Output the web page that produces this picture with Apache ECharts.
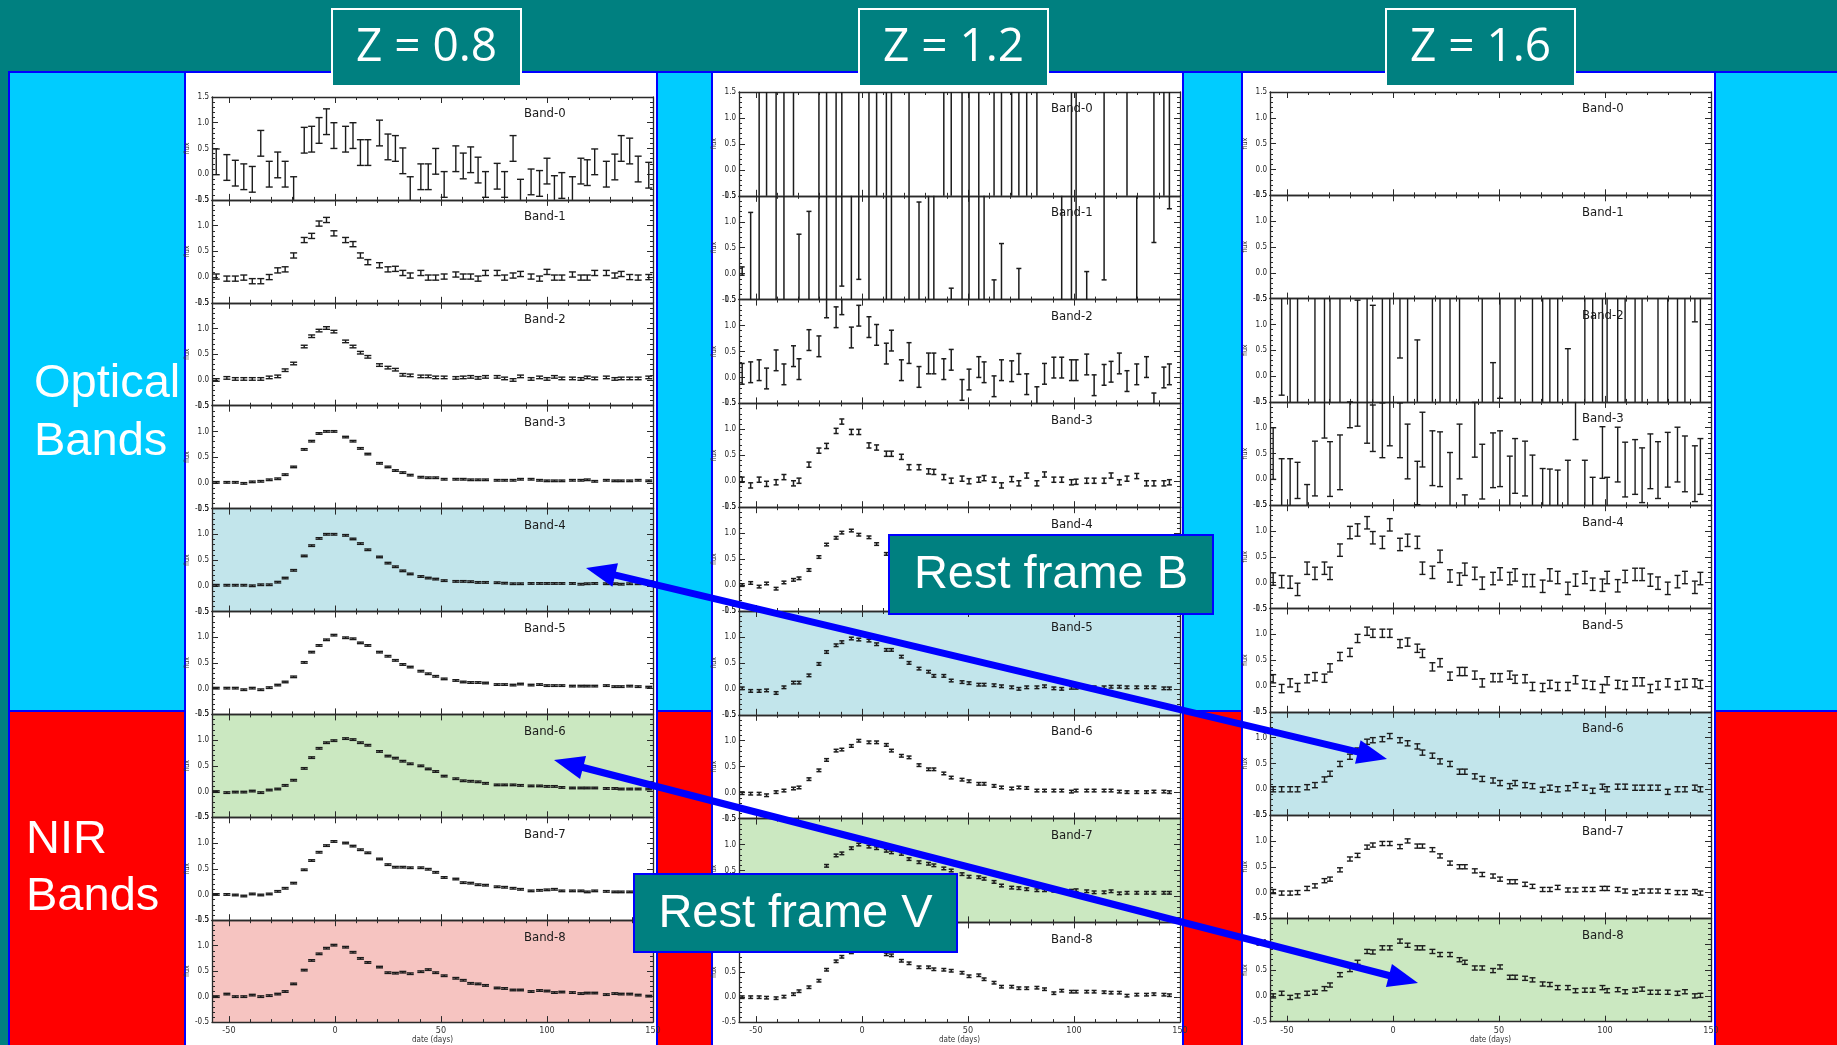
<!DOCTYPE html>
<html>
<head>
<meta charset="utf-8">
<script src="https://cdn.jsdelivr.net/npm/echarts@6/dist/echarts.min.js"></script>
<style>
html, body { margin: 0; padding: 0; background: #008080; }
#chart { width: 1837px; height: 1045px; }
</style>
</head>
<body>
<div id="chart"></div>
<script>
// observation epochs (days from peak)
var daysA = [-56,-51,-47,-43,-39,-35,-31,-27,-23.5,-19.5,-14.5,-11,-7.5,-4,-0.5,5,8.5,12,15.5,21,25,28.5,32,35.5,40.5,44,47.5,51.5,57,60.5,64,67.5,71,76.5,80,84,87.5,92.5,96.5,100,103.5,107,112,116,119,122.5,128,132,135,139,143,148];
var daysB = [-56.5,-52.5,-48.5,-45,-40.5,-36.8,-32.3,-29.7,-25,-20.3,-16.7,-12.2,-9.5,-5,-1.5,3.3,6.9,11.5,13.9,18.6,22.2,26.9,31.4,33.9,38.6,42.1,47.2,50.5,55.1,57.6,62.3,65.8,70.6,74,77.7,82.5,86.1,90.5,94.2,98.8,101,106,109.5,114.2,117.5,121.4,125,129.6,134.2,137.7,142.4,145];

var dayTicks = [-50, 0, 50, 100, 150];
var dayMinorTicks = [-50,-40,-30,-20,-10,0,10,20,30,40,50,60,70,80,90,100,110,120,130,140,150];

// Z = 0.8
var z08b0 = [0.24,0.13,0.02,-0.05,-0.1,0.6,0.0,0.18,0.0,-0.3,0.66,0.68,0.85,1.02,0.75,0.68,0.75,0.42,0.42,0.8,0.53,0.5,0.26,-0.3,-0.05,-0.05,0.25,-0.2,0.3,0.16,0.28,0.08,-0.2,-0.04,-0.2,0.5,-0.35,-0.15,-0.18,0.06,-0.28,-0.22,-0.3,0.06,0.03,0.24,0.0,0.14,0.5,0.45,0.1,-0.02];
var z08b1 = [0.01,-0.03,-0.03,-0.01,-0.08,-0.08,0,0.13,0.15,0.42,0.72,0.8,1.04,1.11,0.85,0.72,0.64,0.42,0.29,0.23,0.15,0.16,0.08,0.03,0.08,-0.01,-0.01,0.01,0.05,0.01,0.01,-0.03,0.08,0.08,-0.01,0.03,0.06,0.01,-0.03,0.1,-0.01,-0.01,0.05,-0.01,-0.01,0.08,0.08,0.03,0.06,0.0,-0.01,0.0];
var z08b2 = [0,0.04,0.02,0.02,0.02,0.02,0.05,0.07,0.19,0.32,0.65,0.85,0.96,1.01,0.94,0.75,0.65,0.53,0.45,0.29,0.24,0.2,0.1,0.09,0.07,0.07,0.05,0.05,0.04,0.05,0.06,0.04,0.06,0.06,0.03,0.0,0.07,0.02,0.05,0.02,0.06,0.03,0.03,0.02,0.05,0.03,0.05,0.02,0.03,0.03,0.03,0.05];
var z08b3 = [0.01,0.01,0.01,-0.01,0.02,0.03,0.06,0.08,0.16,0.31,0.65,0.81,0.96,1.0,1.0,0.89,0.81,0.67,0.56,0.38,0.31,0.24,0.2,0.15,0.11,0.1,0.1,0.07,0.07,0.07,0.06,0.06,0.06,0.05,0.05,0.05,0.07,0.07,0.05,0.04,0.04,0.04,0.05,0.05,0.06,0.03,0.05,0.04,0.04,0.04,0.05,0.04];
var z08b4 = [0.01,0.01,0.01,0.01,0,0.02,0.02,0.07,0.15,0.3,0.58,0.78,0.92,1.0,1.0,0.98,0.91,0.82,0.7,0.56,0.44,0.37,0.29,0.23,0.18,0.15,0.13,0.1,0.085,0.085,0.08,0.065,0.065,0.06,0.05,0.04,0.04,0.045,0.045,0.045,0.045,0.045,0.045,0.03,0.04,0.045,0.04,0.04,0.03,0.04,0.04,0.04];
var z08b5 = [0.01,0.01,0.01,-0.02,0.01,-0.02,0.02,0.07,0.13,0.23,0.51,0.71,0.84,0.95,1.04,0.99,0.97,0.89,0.84,0.71,0.63,0.55,0.47,0.42,0.34,0.29,0.24,0.19,0.16,0.13,0.12,0.12,0.11,0.08,0.08,0.07,0.09,0.07,0.08,0.06,0.06,0.06,0.05,0.05,0.05,0.05,0.06,0.04,0.04,0.05,0.04,0.03];
var z08b6 = [0,-0.02,-0.01,-0.01,0.01,-0.02,0.03,0.05,0.12,0.22,0.45,0.66,0.84,0.95,0.99,1.03,1.01,0.95,0.9,0.78,0.69,0.65,0.59,0.54,0.5,0.44,0.39,0.3,0.25,0.21,0.2,0.19,0.16,0.13,0.13,0.13,0.12,0.11,0.11,0.1,0.1,0.08,0.07,0.07,0.07,0.07,0.06,0.06,0.05,0.05,0.05,0.05];
var z08b7 = [0,0,-0.01,-0.03,0.01,-0.01,0.01,0.06,0.12,0.22,0.48,0.66,0.82,0.95,1.03,1.0,0.94,0.87,0.81,0.69,0.58,0.53,0.53,0.52,0.52,0.49,0.43,0.33,0.3,0.23,0.22,0.19,0.18,0.15,0.14,0.12,0.1,0.07,0.08,0.09,0.1,0.07,0.07,0.07,0.05,0.07,0.06,0.05,0.05,0.05,0.05,0.04];
var z08b8 = [0,0.05,0,0,0.03,0,0.02,0.05,0.1,0.25,0.52,0.71,0.84,0.95,1.01,0.97,0.87,0.75,0.67,0.58,0.47,0.46,0.48,0.45,0.49,0.53,0.47,0.41,0.36,0.32,0.26,0.25,0.22,0.17,0.16,0.13,0.13,0.1,0.12,0.11,0.08,0.09,0.08,0.06,0.07,0.07,0.04,0.06,0.05,0.05,0.03,0.01];

// Z = 1.2
var z12b0 = [null,null,0.4,0.6,0.5,0.3,0.7,null,null,0.5,0.6,0.4,0.5,null,0.6,0.5,0.4,0.5,0.7,null,0.5,null,null,null,0.6,0.5,0.4,0.6,0.5,null,0.3,0.6,0.5,0.4,0.6,0.5,null,null,null,0.5,0.6,null,null,0.4,null,null,0.5,null,null,0.6,0.4,0.5];
var z12b1 = [0.05,-0.32,0.5,null,0.5,0.5,null,-0.74,-0.3,0.5,0.5,0.5,1.26,0.5,1.39,0.5,null,0.5,0.5,null,0.5,-0.12,0.5,0.5,null,-1.78,0.5,0.5,0.5,0.5,-1.62,-0.92,null,-1.4,null,null,null,null,0.5,0.5,0.5,-1.46,null,1.38,null,null,null,0.5,null,2.1,null,2.75];
var z12b1Err = [0.08,1.5,2.5,0,2.5,2.5,0,1.5,1.5,2.5,2.5,2.5,1.5,2.5,1.5,2.5,0,2.5,2.5,0,2.5,1.5,2.5,2.5,0,1.5,2.5,2.5,2.5,2.5,1.5,1.5,0,1.5,0,0,0,0,2.5,2.5,2.5,1.5,0,1.5,0,0,0,2.5,0,1.5,0,1.5];
var z12b2 = [0.07,0.1,0.14,-0.02,0.33,0.06,0.41,0.16,0.72,0.6,1.35,1.16,1.41,0.77,1.19,0.97,0.82,0.46,0.71,0.14,0.47,0.01,0.27,0.27,0.16,0.34,-0.24,-0.04,0.2,0.1,-0.17,0.14,0.12,0.26,-0.13,-0.38,0.07,0.19,0.19,0.14,0.14,0.25,-0.15,0.05,0.11,0.27,-0.07,0.06,0.2,-0.5,0.0,0.06];
var z12b3 = [0.03,-0.08,0.03,-0.05,-0.02,0.08,-0.04,0.01,0.32,0.59,0.68,0.97,1.15,0.95,0.95,0.69,0.65,0.53,0.53,0.47,0.27,0.27,0.19,0.18,0.08,0.01,0.05,0,0.03,0.06,0.03,-0.08,0.04,-0.04,0.11,-0.04,0.13,0.03,0.03,-0.02,-0.01,0.01,0.01,0.01,0.11,-0.02,0.05,0.1,-0.04,-0.04,-0.04,-0.02];
var z12b4 = [0,0.04,-0.03,0.03,-0.07,0.05,0.1,0.13,0.29,0.54,0.78,0.91,1.01,1.05,0.97,0.92,0.79,0.6,0.5,0.4,0.33,0.26,0.2,0.17,0.13,0.11,0.09,0.08,0.07,0.06,0.06,0.05,0.05,0.05,0.04,0.04,0.05,0.04,0.04,0.04,0.03,0.04,0.04,0.03,0.04,0.03,0.03,0.04,0.03,0.03,0.03,0.03];
var z12b5 = [0.01,-0.04,-0.04,-0.03,-0.08,0.03,0.12,0.12,0.26,0.48,0.71,0.84,0.9,0.97,0.95,0.93,0.86,0.75,0.75,0.62,0.5,0.39,0.33,0.25,0.25,0.16,0.13,0.11,0.08,0.08,0.07,0.05,0.03,0,0.03,0.03,0.05,0.01,0,0.02,0.02,0.03,0.03,0.03,0.04,0.04,0.03,0.03,0.03,0.03,0.01,0.01];
var z12b6 = [-0.01,-0.02,-0.02,-0.05,0.01,0.04,0.08,0.1,0.26,0.43,0.63,0.81,0.83,0.9,1.0,0.97,0.97,0.92,0.81,0.71,0.68,0.53,0.45,0.45,0.37,0.29,0.25,0.22,0.17,0.17,0.13,0.1,0.08,0.1,0.09,0.04,0.04,0.04,0.04,0.02,0.04,0.04,0.04,0.04,0.04,0.02,0.01,0.01,0.01,0.02,0.02,0.01];
var z12b7 = [0,0,-0.01,0,0.02,0.04,0.08,0.12,0.25,0.4,0.59,0.79,0.83,0.93,1.0,0.96,0.93,0.88,0.85,0.82,0.72,0.66,0.63,0.6,0.54,0.5,0.43,0.38,0.37,0.34,0.28,0.21,0.17,0.16,0.14,0.12,0.12,0.11,0.11,0.11,0.12,0.1,0.08,0.08,0.1,0.06,0.07,0.07,0.07,0.07,0.07,0.07];
var z12b8 = [0,0,0,-0.01,-0.02,0.01,0.06,0.12,0.2,0.33,0.55,0.72,0.81,0.9,0.97,1.0,0.97,0.86,0.84,0.73,0.68,0.6,0.6,0.56,0.55,0.53,0.49,0.42,0.44,0.36,0.29,0.21,0.21,0.18,0.18,0.19,0.16,0.08,0.13,0.11,0.11,0.11,0.11,0.1,0.09,0.09,0.03,0.05,0.05,0.06,0.05,0.04];

// Z = 1.6
var z16b0 = [];
var z16b1 = [];
var z16b2 = [null,1.13,0.5,0.5,null,0.5,0.5,0.5,0.5,null,-0.03,0.5,-0.13,0.5,0.5,1.85,0.5,-0.8,null,0.5,0.5,0.5,0.5,null,null,0.5,-1.24,1.07,null,0.5,null,0.5,0.5,0.5,0.5,-0.97,null,0.5,0.5,0.5,0.5,0.5,0.5,0.5,0.5,null,0.5,0.5,0.5,0.5,2.55,0.5];
var z16b2Err = [0,1.5,2.5,2.5,0,2.5,2.5,2.5,2.5,0,1.5,2.5,1.5,2.5,2.5,1.5,2.5,1.5,0,2.5,2.5,2.5,2.5,0,0,2.5,1.5,1.5,0,2.5,0,2.5,2.5,2.5,2.5,1.5,0,2.5,2.5,2.5,2.5,2.5,2.5,2.5,2.5,0,2.5,2.5,2.5,2.5,1.5,2.5];
var z16b3 = [0.5,-0.1,-0.1,-0.02,-0.6,0.21,1.3,0.2,0.33,1.25,1.27,1.2,0.99,0.95,1.15,0.95,0.54,-0.07,0.77,0.41,0.39,0.0,0.54,-0.8,0.96,0.15,0.37,0.4,-0.05,0.26,0.21,-0.03,-0.29,-0.3,-0.32,-0.13,1.27,-0.13,-0.46,0.52,-0.46,0.48,0.19,0.24,0.08,0.35,0.18,0.38,0.48,0.3,0.11,0.25];
var z16b3Err = [0.5,0.5,0.5,0.35,0.5,0.53,0.5,0.53,0.53,0.25,0.24,0.5,0.45,0.53,0.5,0.53,0.53,0.42,0.53,0.53,0.53,0.52,0.53,0.5,0.53,0.53,0.53,0.54,0.5,0.53,0.53,0.5,0.5,0.5,0.5,0.5,0.5,0.5,0.5,0.5,0.5,0.53,0.53,0.53,0.53,0.53,0.55,0.53,0.53,0.54,0.54,0.54];
var z16b4 = [0.07,0.02,0.01,-0.13,0.28,0.18,0.28,0.18,0.63,0.97,1.02,1.16,0.87,0.78,1.12,0.74,0.82,0.78,0.28,0.2,0.51,0.13,0.07,0.26,0.18,-0.01,0.08,0.17,0.08,0.15,0.04,0.04,-0.07,0.15,0.1,-0.11,0.05,0.1,-0.03,-0.05,0.1,-0.06,0.12,0.16,0.16,0.05,-0.01,-0.11,0.02,0.1,-0.09,0.08];
var z16b5 = [0.14,-0.05,0.06,-0.03,0.14,0.18,0.15,0.35,0.57,0.65,0.92,1.06,1.02,1.02,1.02,0.82,0.85,0.73,0.63,0.37,0.45,0.19,0.28,0.28,0.21,0.06,0.16,0.16,0.21,0.13,0.14,-0.01,-0.03,0.03,-0.01,-0.01,0.12,0.03,0.01,-0.05,0.1,0.03,0.01,0.08,0.08,-0.05,0.01,0.06,0.01,0.05,0.06,0.03];
var z16b6 = [0,0,0,0,0.04,0.08,0.19,0.3,0.49,0.63,0.75,0.92,0.95,0.97,1.03,0.95,0.89,0.83,0.71,0.65,0.54,0.49,0.34,0.34,0.25,0.2,0.17,0.12,0.06,0.12,0.08,0.06,-0.01,0.03,0,0.02,0.08,0.03,-0.03,0.05,0,0.05,0.05,0.03,0.03,0.03,0.03,-0.05,0,0,0.03,0];
var z16b7 = [0.02,-0.01,-0.01,0,0.08,0.13,0.23,0.26,0.44,0.65,0.72,0.88,0.92,0.95,0.95,0.89,1.0,0.9,0.9,0.83,0.71,0.57,0.5,0.5,0.42,0.35,0.32,0.26,0.21,0.21,0.16,0.12,0.06,0.06,0.1,0.05,0.05,0.06,0.06,0.08,0.08,0.06,0.03,0,0.03,0.03,0.03,0.02,0,0,0.02,-0.01];
var z16b8 = [0,0.05,-0.03,0,0.05,0.07,0.14,0.21,0.41,0.51,0.65,0.86,0.85,0.93,0.93,1.06,0.98,0.93,0.93,0.86,0.8,0.8,0.7,0.65,0.54,0.54,0.49,0.56,0.36,0.36,0.34,0.31,0.23,0.22,0.16,0.16,0.1,0.11,0.11,0.16,0.1,0.12,0.08,0.11,0.13,0.07,0.07,0.07,0.05,0.08,0,0.01];

var SHADE_B = '#c2e5eb', SHADE_V = '#cbe8c1', SHADE_R = '#f6c4c1';

var panels = [
	{title: 'Z = 0.8', days: daysA, left: 212, top: 97, width: 441, bandH: 102.9, cap: 7, lw: 1.4,
	 bands: [{v: z08b0, e: 0.25}, {v: z08b1, e: 0.05}, {v: z08b2, e: 0.025}, {v: z08b3, e: 0.015}, {v: z08b4, e: 0.015},
			 {v: z08b5, e: 0.015}, {v: z08b6, e: 0.015}, {v: z08b7, e: 0.015}, {v: z08b8, e: 0.015}],
	 shade: {4: SHADE_B, 6: SHADE_V, 8: SHADE_R}},
	{title: 'Z = 1.2', days: daysB, left: 739, top: 92, width: 441, bandH: 103.8, cap: 5, lw: 1.5,
	 bands: [{v: z12b0, e: 2.5}, {v: z12b1, e: z12b1Err}, {v: z12b2, e: 0.2}, {v: z12b3, e: 0.05}, {v: z12b4, e: 0.025},
			 {v: z12b5, e: 0.025}, {v: z12b6, e: 0.025}, {v: z12b7, e: 0.025}, {v: z12b8, e: 0.025}],
	 shade: {5: SHADE_B, 7: SHADE_V}},
	{title: 'Z = 1.6', days: daysB, left: 1270, top: 92, width: 441, bandH: 103.3, cap: 6, lw: 1.4,
	 bands: [{v: z16b0, e: 0}, {v: z16b1, e: 0}, {v: z16b2, e: z16b2Err}, {v: z16b3, e: z16b3Err}, {v: z16b4, e: 0.12},
			 {v: z16b5, e: 0.08}, {v: z16b6, e: 0.05}, {v: z16b7, e: 0.04}, {v: z16b8, e: 0.04}],
	 shade: {6: SHADE_B, 8: SHADE_V}}
];

var narrow = '"Liberation Sans Narrow", "DejaVu Sans Condensed", "Liberation Sans", sans-serif';
var axisCol = '#2a2a2a';

function errorBars(cap, lw){
	return function(params, api){
		var cs = params.coordSys;
		var x = api.value(0), v = api.value(1), e = api.value(2);
		var hi = api.coord([x, v + e]);
		var lo = api.coord([x, v - e]);
		var yTop = cs.y, yBot = cs.y + cs.height;
		var y1 = Math.max(hi[1], yTop), y2 = Math.min(lo[1], yBot);
		if(y1 > y2) return null;
		var px = hi[0];
		var st = {stroke: '#1c1c1c', lineWidth: lw};
		var kids = [{type: 'line', shape: {x1: px, y1: y1, x2: px, y2: y2}, style: st}];
		if(hi[1] >= yTop)
			kids.push({type: 'line', shape: {x1: px - cap / 2, y1: hi[1], x2: px + cap / 2, y2: hi[1]}, style: st});
		if(lo[1] <= yBot)
			kids.push({type: 'line', shape: {x1: px - cap / 2, y1: lo[1], x2: px + cap / 2, y2: lo[1]}, style: st});
		return {type: 'group', children: kids};
	};
}

var grids = [], xAxes = [], yAxes = [], series = [], graphics = [];

// backgrounds
graphics.push({type: 'rect', z: -100, shape: {x: 9, y: 72, width: 1840, height: 639}, style: {fill: '#00ccff', stroke: '#0000ff', lineWidth: 2}});
graphics.push({type: 'rect', z: -100, shape: {x: 9, y: 711, width: 1840, height: 340}, style: {fill: '#ff0000', stroke: '#0000ff', lineWidth: 2}});
var whiteBoxes = [[185, 72, 472], [712, 72, 471], [1242, 72, 473]];
whiteBoxes.forEach(function(b){
	graphics.push({type: 'rect', z: -90, shape: {x: b[0], y: b[1], width: b[2], height: 990}, style: {fill: '#ffffff', stroke: '#0000ff', lineWidth: 2}});
});

panels.forEach(function(p, pi){
	for(var b = 0; b < 9; b++){
		var g = grids.length;
		var isLast = (b == 8);
		var shade = p.shade[b];
		grids.push({
			left: p.left, top: p.top + b * p.bandH, width: p.width, height: p.bandH,
			show: !!shade, backgroundColor: shade || 'transparent', borderWidth: 0
		});
		var lineStyle = {color: axisCol, width: 1.3};
		var tickStyle = {color: axisCol, width: 1};
		xAxes.push({
			gridIndex: g, type: 'value', min: -58, max: 150, position: 'bottom',
			axisLine: {show: true, onZero: false, lineStyle: lineStyle},
			axisTick: {show: true, inside: true, length: 6, customValues: dayTicks, lineStyle: tickStyle},
			axisLabel: {show: isLast, customValues: dayTicks, fontSize: 9, color: '#333', margin: 4, fontFamily: narrow},
			splitLine: {show: false},
			name: isLast ? 'date (days)' : '', nameLocation: 'middle', nameGap: 13,
			nameTextStyle: {fontSize: 8, color: '#333', fontFamily: narrow}
		});
		xAxes.push({
			gridIndex: g, type: 'value', min: -58, max: 150, position: 'top',
			axisLine: {show: true, onZero: false, lineStyle: lineStyle},
			axisTick: {show: true, inside: true, length: 6, customValues: dayTicks, lineStyle: tickStyle},
			axisLabel: {show: false}, splitLine: {show: false}
		});
		xAxes.push({
			gridIndex: g, type: 'value', min: -58, max: 150, position: 'bottom',
			axisLine: {show: false, onZero: false},
			axisTick: {show: true, inside: true, length: 3, customValues: dayMinorTicks, lineStyle: tickStyle},
			axisLabel: {show: false}, splitLine: {show: false}
		});
		xAxes.push({
			gridIndex: g, type: 'value', min: -58, max: 150, position: 'top',
			axisLine: {show: false, onZero: false},
			axisTick: {show: true, inside: true, length: 3, customValues: dayMinorTicks, lineStyle: tickStyle},
			axisLabel: {show: false}, splitLine: {show: false}
		});
		var yBase = {
			gridIndex: g, type: 'value', min: -0.5, max: 1.5, interval: 0.5,
			axisLine: {show: true, onZero: false, lineStyle: lineStyle},
			axisTick: {show: true, inside: true, length: 6, lineStyle: tickStyle},
			minorTick: {show: true, splitNumber: 5, length: 3, lineStyle: tickStyle},
			splitLine: {show: false}
		};
		yAxes.push(Object.assign({}, yBase, {
			position: 'left',
			axisLabel: {show: true, fontSize: 8, color: '#222', margin: 3, fontFamily: narrow,
				formatter: function(v){ return v.toFixed(1); }},
			name: 'flux', nameLocation: 'middle', nameRotate: 90, nameGap: 19,
			nameTextStyle: {fontSize: 7, color: '#333', fontFamily: narrow}
		}));
		yAxes.push(Object.assign({}, yBase, {position: 'right', axisLabel: {show: false}}));

		var band = p.bands[b];
		var data = [];
		for(var i = 0; i < band.v.length; i++){
			if(band.v[i] === null) continue;
			var err = Array.isArray(band.e) ? band.e[i] : band.e;
			data.push([p.days[i], band.v[i], err]);
		}
		series.push({
			type: 'custom', name: p.title + ' Band-' + b,
			xAxisIndex: g * 4, yAxisIndex: g * 2,
			renderItem: errorBars(p.cap, p.lw),
			data: data, silent: true, z: 5
		});

		graphics.push({
			type: 'text', z: 10, x: p.left + 312, y: p.top + b * p.bandH + 17,
			style: {text: 'Band-' + b, fill: '#1a1a1a', font: '13px ' + narrow, textVerticalAlign: 'middle'}
		});
	}
});

// title boxes
var zBoxes = [[332, 'Z = 0.8'], [859, 'Z = 1.2'], [1386, 'Z = 1.6']];
zBoxes.forEach(function(zb){
	graphics.push({type: 'rect', z: 150, shape: {x: zb[0], y: 9, width: 189, height: 77}, style: {fill: '#008080', stroke: '#ffffff', lineWidth: 2}});
	graphics.push({type: 'text', z: 151, x: zb[0] + 94.5, y: 48,
		style: {text: zb[1], fill: '#ffffff', font: '46px "Open Sans", "Liberation Sans", sans-serif', textAlign: 'center', textVerticalAlign: 'middle'}});
});

// side labels
var bigFont = '47px "Liberation Sans", Arial, sans-serif';
[['Optical', 34, 384], ['Bands', 34, 442], ['NIR', 26, 840], ['Bands', 26, 897]].forEach(function(t){
	graphics.push({type: 'text', z: 150, x: t[1], y: t[2],
		style: {text: t[0], fill: '#ffffff', font: bigFont, textVerticalAlign: 'middle'}});
});

// arrows
function arrow(x1, y1, x2, y2){
	var dx = x2 - x1, dy = y2 - y1, L = Math.sqrt(dx * dx + dy * dy);
	var ux = dx / L, uy = dy / L, nx = -uy, ny = ux;
	var hl = 30, hw = 12;
	function head(tx, ty, dx1, dy1){
		var bx = tx - dx1 * hl, by = ty - dy1 * hl;
		return {type: 'polygon', z: 200,
			shape: {points: [[tx, ty], [bx + nx * hw, by + ny * hw], [bx - nx * hw, by - ny * hw]]},
			style: {fill: '#0000ff'}};
	}
	return [
		{type: 'line', z: 200, shape: {x1: x1 + ux * (hl - 4), y1: y1 + uy * (hl - 4), x2: x2 - ux * (hl - 4), y2: y2 - uy * (hl - 4)},
		 style: {stroke: '#0000ff', lineWidth: 7}},
		head(x2, y2, ux, uy),
		head(x1, y1, -ux, -uy)
	];
}
graphics = graphics.concat(arrow(586, 568, 1387, 759));
graphics = graphics.concat(arrow(554, 760, 1418, 983));

// rest-frame boxes
var restFont = '47px "Liberation Sans", Arial, sans-serif';
[[889, 535, 324, 79, 'Rest frame B'], [634, 874, 323, 78, 'Rest frame V']].forEach(function(r){
	graphics.push({type: 'rect', z: 250, shape: {x: r[0], y: r[1], width: r[2], height: r[3]}, style: {fill: '#008080', stroke: '#0000ff', lineWidth: 2}});
	graphics.push({type: 'text', z: 251, x: r[0] + r[2] / 2, y: r[1] + r[3] / 2 + 1,
		style: {text: r[4], fill: '#ffffff', font: restFont, textAlign: 'center', textVerticalAlign: 'middle'}});
});

var chart = echarts.init(document.getElementById('chart'));
chart.setOption({
	backgroundColor: '#008080',
	animation: false,
	grid: grids,
	xAxis: xAxes,
	yAxis: yAxes,
	series: series,
	graphic: {elements: graphics}
});
</script>
</body>
</html>
